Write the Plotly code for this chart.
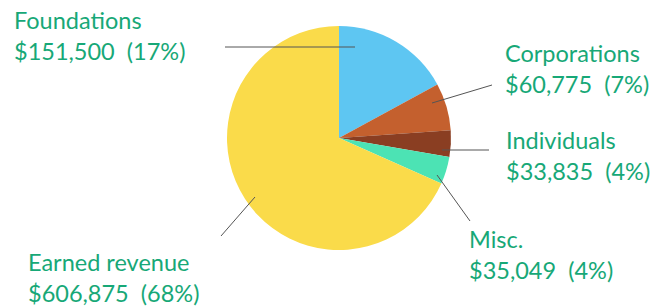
import plotly.graph_objects as go

# ---- data ----
categories = ["Foundations", "Corporations", "Individuals", "Misc.", "Earned revenue"]
amounts = [151500, 60775, 33835, 35049, 606875]
colors = ["#5EC6F2", "#C4602E", "#8A3E22", "#4CE3B4", "#FADB4A"]

total = sum(amounts)
label_texts = [
    f"{c}<br>${v:,}\u00a0\u00a0({round(v / total * 100)}%)"
    for c, v in zip(categories, amounts)
]

W, H = 665, 306
cx, cy, r = 339, 138, 112  # pie centre / radius in px

# label placement (px): text left x, text vertical middle, leader line (x0,y0)->(x1,y1)
label_layout = {
    "Foundations":    dict(tx=12, ty=35, line=(225, 47, 355, 47)),
    "Corporations":   dict(tx=503, ty=68, line=(432, 103, 492, 85)),
    "Individuals":    dict(tx=504, ty=155, line=(442, 150, 489, 150)),
    "Misc.":          dict(tx=467, ty=254, line=(437, 175, 470, 221)),
    "Earned revenue": dict(tx=26, ty=277, line=(255, 197, 221, 236)),
}

def px(x):
    return x / W

def py(y):
    return 1 - y / H

fig = go.Figure(
    go.Pie(
        labels=categories,
        values=amounts,
        marker=dict(colors=colors, line=dict(width=0)),
        sort=False,
        direction="clockwise",
        rotation=0,
        textinfo="none",
        hoverinfo="label+value+percent",
        showlegend=False,
        domain=dict(x=[px(cx - r), px(cx + r)], y=[py(cy + r), py(cy - r)]),
    )
)

annotations = []
shapes = []
for cat, txt in zip(categories, label_texts):
    lay = label_layout[cat]
    annotations.append(
        dict(
            text=txt,
            x=px(lay["tx"]),
            y=py(lay["ty"]),
            xref="paper",
            yref="paper",
            xanchor="left",
            yanchor="middle",
            align="left",
            showarrow=False,
            font=dict(family="Lato, Noto Sans, sans-serif", size=23.5, color="#17A877"),
        )
    )
    x0, y0, x1, y1 = lay["line"]
    shapes.append(
        dict(
            type="line",
            xref="paper",
            yref="paper",
            x0=px(x0),
            y0=py(y0),
            x1=px(x1),
            y1=py(y1),
            line=dict(color="#555555", width=1),
        )
    )

fig.update_layout(
    width=W,
    height=H,
    margin=dict(l=0, r=0, t=0, b=0),
    paper_bgcolor="white",
    plot_bgcolor="white",
    annotations=annotations,
    shapes=shapes,
)

fig.write_html(
    "out.html",
    config={"displayModeBar": False},
    post_script="document.body.style.margin='0';",
)
